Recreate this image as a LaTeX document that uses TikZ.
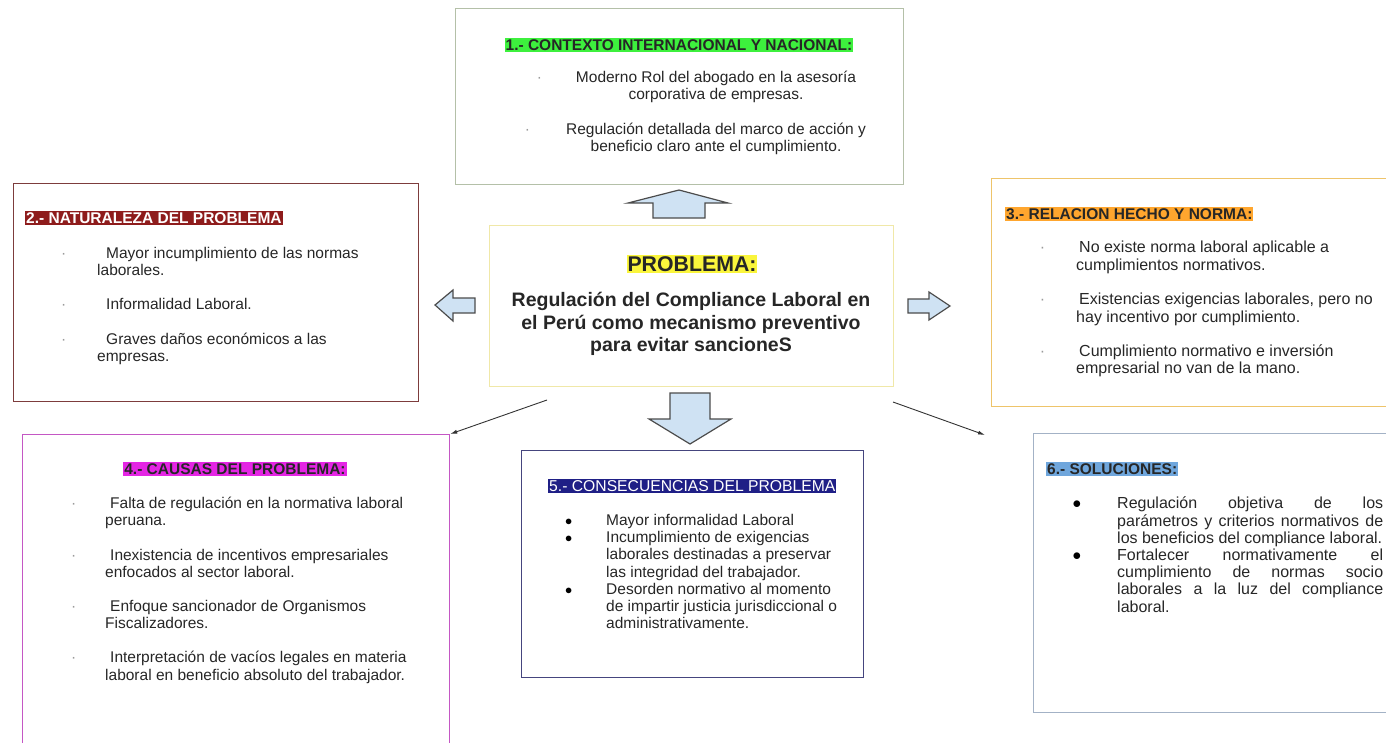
\documentclass[tikz,border=0pt]{standalone}
\usepackage{fontspec}
\setmainfont{Liberation Sans}
\usepackage{xcolor}
\usetikzlibrary{positioning,arrows.meta}

\definecolor{txt}{HTML}{262626}
\definecolor{dotgray}{HTML}{9A9A9A}
\definecolor{bordgreen}{HTML}{B4C0A8}
\definecolor{bordred}{HTML}{7D3C3C}
\definecolor{bordgold}{HTML}{EEC46A}
\definecolor{bordyellow}{HTML}{F0E8A8}
\definecolor{bordmag}{HTML}{C457C4}
\definecolor{bordnavy}{HTML}{45457E}
\definecolor{bordblue}{HTML}{A3B2C6}
\definecolor{hlgreen}{HTML}{3DF03D}
\definecolor{hlred}{HTML}{8E1C1C}
\definecolor{hlorange}{HTML}{FFA62E}
\definecolor{hlyellow}{HTML}{FAF53C}
\definecolor{hlmag}{HTML}{E426E4}
\definecolor{hlnavy}{HTML}{1F1F86}
\definecolor{hlblue}{HTML}{6FA6DC}
\definecolor{arrowfill}{HTML}{CFE2F3}

\newcommand{\gdot}[1]{\llap{\textcolor{dotgray}{·}\hspace{#1}}}
\newcommand{\bdot}[1]{\llap{\textcolor{black}{$\bullet$}\hspace{#1}}}

\begin{document}
\begin{tikzpicture}[x=1pt, y=-1pt,
    box/.style={draw, line width=1.2pt, minimum width=#1, anchor=north west, inner sep=0},
    title/.style={font=\fontsize{15.5}{17}\selectfont\bfseries, inner xsep=1pt, inner ysep=1.5pt, text=txt},
    body/.style={font=\fontsize{15.5}{17.2}\selectfont, text=txt, inner sep=0, align=left, anchor=north west},
    bigarrow/.style={draw=black!70, fill=arrowfill, line width=1.2pt, line join=miter},
    thinarrow/.style={draw=black!80, line width=0.9pt, -{Latex[length=7pt,width=4pt]}}]
    \useasboundingbox (0,0) rectangle (1386,742);
    \clip (0,0) rectangle (1386,742);

    % Cuadros
    \node[box=448, draw=bordgreen, minimum height=176] (ctx) at (455,8) {};
    \node[box=405, draw=bordred, minimum height=218] (nat) at (13,183) {};
    \node[box=405, draw=bordgold, minimum height=228] (rel) at (991,178) {};
    \node[box=404, draw=bordyellow, minimum height=161] (prob) at (489,225) {};
    \node[box=427, draw=bordmag, minimum height=320] (causas) at (22,434) {};
    \node[box=342, draw=bordnavy, minimum height=227] (consec) at (521,450) {};
    \node[box=360, draw=bordblue, minimum height=279] (soluc) at (1033,433) {};

    % Titulos
    \node[title, fill=hlgreen] (ctxtitle) at (679,45) {1.- CONTEXTO INTERNACIONAL Y NACIONAL:};
    \node[title, fill=hlred, text=white, anchor=west] (nattitle) at (25,218) {2.- NATURALEZA DEL PROBLEMA};
    \node[title, fill=hlorange, anchor=west] (reltitle) at (1005,214) {3.- RELACION HECHO Y NORMA:};
    \node[title, fill=hlyellow, font=\fontsize{21.3}{23}\selectfont\bfseries] (probtitle) at (692,264) {PROBLEMA:};
    \node[title, fill=hlmag] (causastitle) at (235,469) {4.- CAUSAS DEL PROBLEMA:};
    \node[title, fill=hlnavy, text=white, font=\fontsize{15.7}{17}\selectfont, anchor=west] (consectitle) at (548,486) {5.- CONSECUENCIAS DEL PROBLEMA};
    \node[title, fill=hlblue, anchor=west] (soluctitle) at (1046,469) {6.- SOLUCIONES:};

    % Textos
    \node[body, align=center, anchor=north] (ctxtext) at (716,71) {%
        \gdot{34pt}Moderno Rol del abogado en la asesoría\\
        corporativa de empresas.\\[17pt]
        \gdot{36pt}Regulación detallada del marco de acción y\\
        beneficio claro ante el cumplimiento.};
    \node[body] (nattext) at (97,247) {%
        \gdot{31pt}\hspace*{9pt}Mayor incumplimiento de las normas\\
        laborales.\\[17pt]
        \gdot{31pt}\hspace*{9pt}Informalidad Laboral.\\[17pt]
        \gdot{31pt}\hspace*{9pt}Graves daños económicos a las\\
        empresas.};
    \node[body, font=\fontsize{16}{17.4}\selectfont] (reltext) at (1076,241) {%
        \gdot{31pt}\hspace*{3pt}No existe norma laboral aplicable a\\
        cumplimientos normativos.\\[17pt]
        \gdot{31pt}\hspace*{3pt}Existencias exigencias laborales, pero no\\
        hay incentivo por cumplimiento.\\[17pt]
        \gdot{31pt}\hspace*{3pt}Cumplimiento normativo e inversión\\
        empresarial no van de la mano.};
    \node[body, align=center, anchor=north, font=\fontsize{19.5}{22.5}\selectfont\bfseries] (probtext) at (691,292) {%
        Regulación del Compliance Laboral en\\
        el Perú como mecanismo preventivo\\
        para evitar sancioneS};
    \node[body] (causastext) at (105,497) {%
        \gdot{29pt}\hspace*{5pt}Falta de regulación en la normativa laboral\\
        peruana.\\[17pt]
        \gdot{29pt}\hspace*{5pt}Inexistencia de incentivos empresariales\\
        enfocados al sector laboral.\\[17pt]
        \gdot{29pt}\hspace*{5pt}Enfoque sancionador de Organismos\\
        Fiscalizadores.\\[17pt]
        \gdot{29pt}\hspace*{5pt}Interpretación de vacíos legales en materia\\
        laboral en beneficio absoluto del trabajador.};
    \node[body] (consectext) at (606,514) {%
        \bdot{34pt}Mayor informalidad Laboral\\
        \bdot{34pt}Incumplimiento de exigencias\\
        laborales destinadas a preservar\\
        las integridad del trabajador.\\
        \bdot{34pt}Desorden normativo al momento\\
        de impartir justicia jurisdiccional o\\
        administrativamente.};
    \node[body, font=\fontsize{16}{17.2}\selectfont] (soluctext) at (1117,497) {%
        \bdot{36pt}\makebox[266pt][s]{Regulación objetiva de los}\\
        \makebox[266pt][s]{parámetros y criterios normativos de}\\
        los beneficios del compliance laboral.\\
        \bdot{36pt}\makebox[266pt][s]{Fortalecer normativamente el}\\
        \makebox[266pt][s]{cumplimiento de normas socio}\\
        \makebox[266pt][s]{laborales a la luz del compliance}\\
        laboral.};

    % Flechas gruesas
    \draw[bigarrow] (653,218) -- (653,203) -- (628,203) -- (679,190) -- (728,203) -- (705,203) -- (705,218) -- cycle;
    \draw[bigarrow] (670,393) -- (710,393) -- (710,419) -- (731,419) -- (690,444) -- (649,419) -- (670,419) -- cycle;
    \draw[bigarrow] (475,298) -- (453,298) -- (453,290) -- (435,305) -- (453,321) -- (453,313) -- (475,313) -- cycle;
    \draw[bigarrow] (908,299) -- (929,299) -- (929,292) -- (950,306) -- (929,320) -- (929,313) -- (908,313) -- cycle;

    % Flechas finas
    \coordinate (leftstart) at (547,400);
    \coordinate (rightstart) at (893,402);
    \coordinate (rightend) at (985,435);
    \draw[thinarrow] (leftstart) -- (causas.north east);
    \draw[thinarrow] (rightstart) -- (rightend);
\end{tikzpicture}
\end{document}
